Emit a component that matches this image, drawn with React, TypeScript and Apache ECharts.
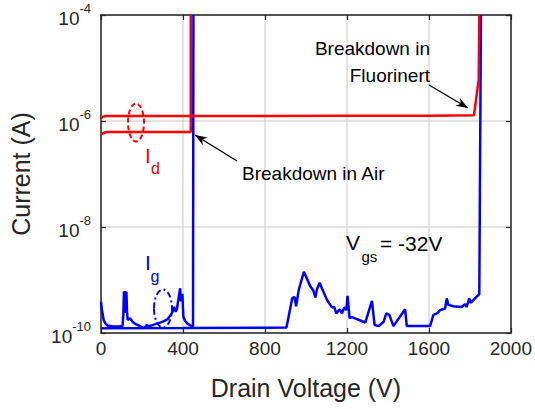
import React, { useEffect, useRef } from "react";
import * as echarts from "echarts";

// ---- data (Drain Voltage V, Current A) ----
const xTickValues = [0, 400, 800, 1200, 1600, 2000];
const yRange = [1e-10, 1e-4];

const idAir: [number, number][] = [
  [0, 0.55e-6], [8, 0.58e-6], [25, 0.62e-6], [120, 0.62e-6], [250, 0.62e-6],
  [380, 0.62e-6], [438, 0.62e-6], [438, 1e-4],
];

const idFluorinert: [number, number][] = [
  [0, 1.12e-6], [8, 1.2e-6], [25, 1.24e-6], [400, 1.24e-6], [800, 1.24e-6],
  [1200, 1.25e-6], [1600, 1.26e-6], [1820, 1.28e-6], [1843, 6e-6], [1846, 1e-4],
];

const igAir: [number, number][] = [
  [0, 3.9e-10], [4, 2.8e-10], [13, 1.76e-10], [22, 1.5e-10], [32, 1.38e-10],
  [60, 1.33e-10], [90, 1.33e-10], [105, 1.36e-10], [109, 2.2e-10], [112, 6.1e-10],
  [115, 2.4e-10], [118, 6.2e-10], [121, 2.6e-10], [124, 6e-10], [127, 2.5e-10],
  [130, 1.76e-10], [142, 1.9e-10], [154, 1.63e-10], [165, 1.5e-10], [178, 1.42e-10],
  [195, 1.32e-10], [211, 1.23e-10], [222, 1.4e-10], [235, 1.35e-10], [255, 1.42e-10],
  [276, 1.52e-10], [300, 1.62e-10], [324, 1.8e-10], [340, 2.2e-10], [349, 2.5e-10],
  [357, 3.1e-10], [365, 2.5e-10], [371, 2.9e-10], [376, 3.9e-10], [382, 5.5e-10],
  [386, 7e-10], [390, 4e-10], [393, 4.2e-10], [397, 5.5e-10], [402, 2.03e-10],
  [410, 1.7e-10], [422, 1.5e-10], [435, 1.4e-10], [443, 1.35e-10], [449, 1.35e-10],
  [451, 1e-4],
];

const igFluorinert: [number, number][] = [
  [0, 1.23e-10], [400, 1.24e-10], [800, 1.26e-10], [905, 1.27e-10], [933, 4.5e-10],
  [944, 4.8e-10], [952, 3.2e-10], [965, 6.5e-10], [990, 1.43e-9], [1022, 7.5e-10],
  [1035, 6.5e-10], [1046, 4.7e-10], [1054, 6.7e-10], [1067, 8.9e-10], [1078, 7e-10],
  [1103, 4.2e-10], [1127, 3.05e-10], [1138, 3.1e-10], [1148, 2.35e-10], [1165, 2.8e-10],
  [1176, 2.35e-10], [1187, 3.05e-10], [1197, 2.7e-10], [1203, 5e-10], [1213, 1.9e-10],
  [1224, 2.0e-10], [1290, 1.58e-10], [1322, 4.05e-10], [1335, 1.42e-10], [1355, 1.35e-10],
  [1379, 1.63e-10], [1392, 2.35e-10], [1407, 2.2e-10], [1427, 1.35e-10], [1484, 2.8e-10],
  [1492, 1.35e-10], [1606, 1.35e-10], [1622, 2.2e-10], [1640, 2.35e-10], [1655, 2.7e-10],
  [1679, 2.9e-10], [1687, 4.5e-10], [1695, 3.4e-10], [1719, 3.2e-10], [1760, 3.1e-10],
  [1776, 3.5e-10], [1784, 3.1e-10], [1797, 4.5e-10], [1804, 3.7e-10], [1825, 4.5e-10],
  [1846, 5.4e-10], [1854, 1e-4],
];

const FONT = "'Liberation Sans', Arial, Helvetica, sans-serif";
const AXIS_COLOR = "#262626";
const GRID_COLOR = "#dadada";
const RED = "#ff0000";
const BLUE = "#0000ff";

function arrowHead(tail: [number, number], tip: [number, number], len = 12, half = 4.5) {
  const dx = tip[0] - tail[0];
  const dy = tip[1] - tail[1];
  const L = Math.hypot(dx, dy);
  const ux = dx / L, uy = dy / L;
  const nx = -uy, ny = ux;
  const bx = tip[0] - len * ux, by = tip[1] - len * uy;
  const notchX = tip[0] - len * 0.7 * ux, notchY = tip[1] - len * 0.7 * uy;
  return [
    [tip[0], tip[1]],
    [bx + half * nx, by + half * ny],
    [notchX, notchY],
    [bx - half * nx, by - half * ny],
  ];
}

function arrow(tail: [number, number], tip: [number, number]) {
  return [
    {
      type: "line",
      shape: { x1: tail[0], y1: tail[1], x2: tip[0], y2: tip[1] },
      style: { stroke: "#000", lineWidth: 1.3 },
      z: 100,
    },
    {
      type: "polygon",
      shape: { points: arrowHead(tail, tip) },
      style: { fill: "#000" },
      z: 100,
    },
  ];
}

function txt(text: string, x: number, y: number, size: number, color: string, align = "left") {
  return {
    type: "text",
    x,
    y,
    z: 100,
    style: {
      text,
      fontSize: size,
      fontFamily: FONT,
      fill: color,
      textAlign: align,
      textVerticalAlign: "middle",
    },
  };
}

function lineSeries(name: string, data: [number, number][], color: string, z: number) {
  return {
    name,
    type: "line",
    data,
    showSymbol: false,
    symbol: "none",
    lineStyle: { color, width: 2.5 },
    z,
    clip: true,
  };
}

export default function App() {
  const ref = useRef<HTMLDivElement>(null);
  useEffect(() => {
    document.body.style.margin = "0";
    const chart = echarts.init(ref.current!, null, { renderer: "svg" });
    const yLabel = (v: number) => {
      const e = Math.round(Math.log10(v));
      return `{b|10}{s|${e}}`;
    };
    const option: any = {
      animation: false,
      backgroundColor: "#ffffff",
      grid: { left: 100, right: 24, top: 15, bottom: 76, containLabel: false },
      xAxis: [
        {
          type: "value",
          min: xTickValues[0],
          max: xTickValues[xTickValues.length - 1],
          interval: 400,
          name: "Drain Voltage (V)",
          nameLocation: "middle",
          nameGap: 42,
          nameTextStyle: { fontSize: 25, fontFamily: FONT, color: AXIS_COLOR },
          axisLine: { show: true, onZero: false, lineStyle: { color: AXIS_COLOR, width: 1.5 } },
          axisTick: { show: true, inside: true, length: 5, lineStyle: { color: AXIS_COLOR, width: 1.2 } },
          axisLabel: {
            fontSize: 19,
            fontFamily: FONT,
            color: AXIS_COLOR,
            margin: 6,
            formatter: (v: number) => String(v),
          },
          splitLine: { show: true, lineStyle: { color: GRID_COLOR, width: 1.5 } },
        },
        {
          type: "value",
          position: "top",
          min: xTickValues[0],
          max: xTickValues[xTickValues.length - 1],
          interval: 400,
          axisLine: { show: true, onZero: false, lineStyle: { color: AXIS_COLOR, width: 1.5 } },
          axisTick: { show: true, inside: true, length: 5, lineStyle: { color: AXIS_COLOR, width: 1.2 } },
          axisLabel: { show: false },
          splitLine: { show: false },
        },
      ],
      yAxis: [
        {
          type: "log",
          logBase: 10,
          min: yRange[0],
          max: yRange[1],
          interval: 2,
          name: "Current (A)",
          nameLocation: "middle",
          nameGap: 68,
          nameRotate: 90,
          nameTextStyle: { fontSize: 25, fontFamily: FONT, color: AXIS_COLOR },
          axisLine: { show: true, onZero: false, lineStyle: { color: AXIS_COLOR, width: 1.5 } },
          axisTick: { show: true, inside: true, length: 5, lineStyle: { color: AXIS_COLOR, width: 1.2 } },
          axisLabel: {
            margin: 10,
            formatter: yLabel,
            rich: {
              b: { fontSize: 19, fontFamily: FONT, color: AXIS_COLOR, lineHeight: 26, verticalAlign: "bottom" },
              s: { fontSize: 13, fontFamily: FONT, color: AXIS_COLOR, lineHeight: 14, verticalAlign: "top" },
            },
          },
          splitLine: { show: true, lineStyle: { color: GRID_COLOR, width: 1.5 } },
        },
        {
          type: "log",
          logBase: 10,
          position: "right",
          min: yRange[0],
          max: yRange[1],
          interval: 2,
          axisLine: { show: true, onZero: false, lineStyle: { color: AXIS_COLOR, width: 1.5 } },
          axisTick: { show: true, inside: true, length: 5, lineStyle: { color: AXIS_COLOR, width: 1.2 } },
          axisLabel: { show: false },
          splitLine: { show: false },
        },
      ],
      series: [
        lineSeries("Ig air", igAir, BLUE, 2),
        lineSeries("Ig Fluorinert", igFluorinert, BLUE, 2),
        lineSeries("Id air", idAir, RED, 3),
        lineSeries("Id Fluorinert", idFluorinert, RED, 3),
      ],
      graphic: [
        {
          type: "ellipse",
          shape: { cx: 136, cy: 122.5, rx: 8, ry: 19 },
          style: { fill: "none", stroke: RED, lineWidth: 2, lineDash: [5, 3] },
          z: 100,
        },
        {
          type: "ellipse",
          shape: { cx: 163, cy: 308.5, rx: 9, ry: 19 },
          style: { fill: "none", stroke: BLUE, lineWidth: 2, lineDash: [6, 3, 2, 3] },
          z: 100,
        },
        txt("I", 145, 155, 21, RED),
        txt("d", 151, 168.5, 16, RED),
        txt("I", 145, 262.5, 21, BLUE),
        txt("g", 150.5, 276.5, 16, BLUE),
        txt("Breakdown in Air", 242, 173, 19, "#000"),
        txt("Breakdown in", 430, 48, 19, "#000", "right"),
        txt("Fluorinert", 430, 75, 19, "#000", "right"),
        txt("V", 346, 242, 21, "#000"),
        txt("gs", 361.5, 256.5, 15, "#000"),
        txt("= -32V", 380, 243, 21, "#000"),
        ...arrow([237, 161], [195, 135]),
        ...arrow([429, 85], [468, 108]),
      ],
    };
    chart.setOption(option);
    return () => chart.dispose();
  }, []);
  return (
    <div
      ref={ref}
      style={{ position: "absolute", left: 0, top: 0, width: 535, height: 409, background: "#fff" }}
    />
  );
}
